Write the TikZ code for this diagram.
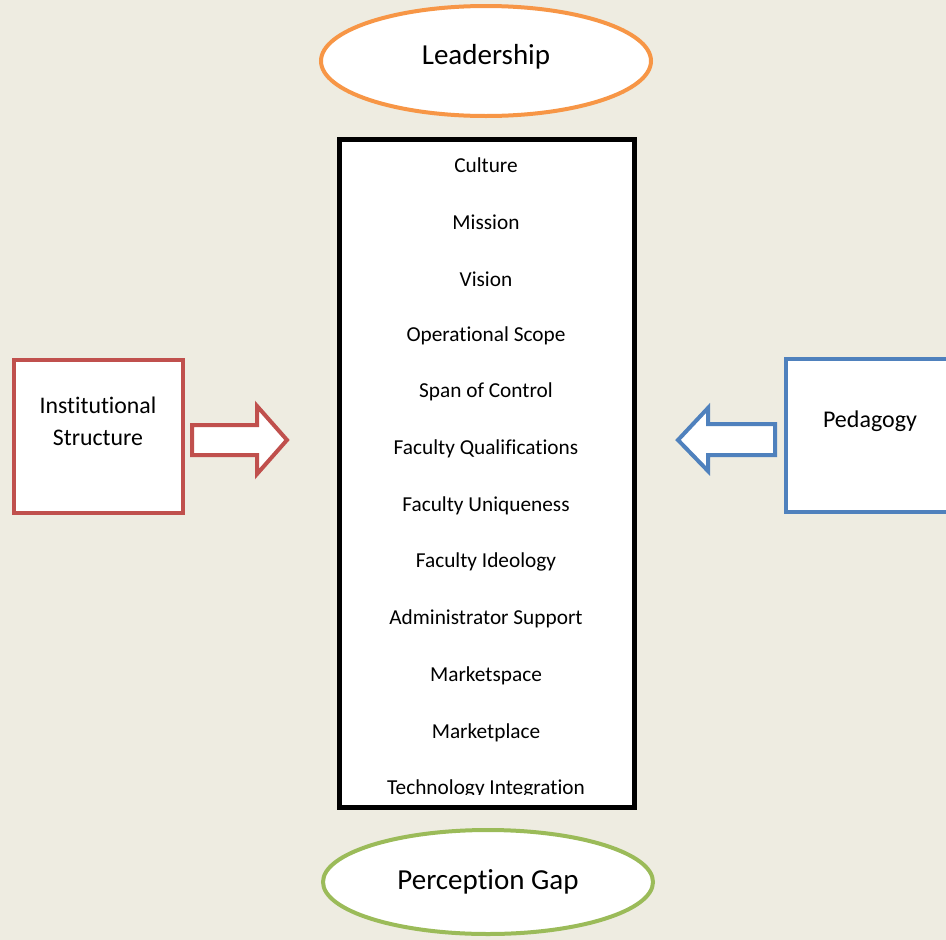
\documentclass[tikz,border=0pt]{standalone}
\usepackage{fontspec}
\setmainfont{Carlito}[Ligatures = NoCommon]
\usetikzlibrary{shapes.geometric}

\definecolor{bgtan}{HTML}{EEECE1}
\definecolor{leadorange}{HTML}{F79646}
\definecolor{gapgreen}{HTML}{9BBB59}
\definecolor{structred}{HTML}{C0504D}
\definecolor{pedblue}{HTML}{4F81BD}

\tikzset{
  oval/.style = {ellipse, fill = white, line width = 4pt, minimum width = 330pt, minimum height = 110pt, inner sep = 0pt},
  sidebox/.style = {rectangle, fill = white, line width = 4pt, minimum width = 169pt, minimum height = 153pt, inner sep = 0pt},
  factor/.style = {font = \fontsize{21.3}{24}\selectfont}
}

\begin{document}
\begin{tikzpicture}[x = 1pt, y = -1pt]
        \fill[bgtan] (0, 0) rectangle (946, 940);
        \useasboundingbox (0, 0) rectangle (946, 940);

        % top and bottom ovals
        \node[oval, draw = leadorange] (lead) at (486, 61) {};
        \node[font = \fontsize{29}{32}\selectfont] at ([yshift = 4pt]lead.center) {Leadership};

        \node[oval, draw = gapgreen, minimum height = 104pt] (gap) at (488, 882) {};
        \node[font = \fontsize{29}{32}\selectfont] at (gap.center) {Perception Gap};

        % central list
        \node[draw, fill = white, line width = 5pt, minimum width = 295pt, minimum height = 668pt, inner sep = 0pt] (factors) at (487, 473.5) {};
        \begin{scope}
          \clip (340, 142) rectangle (634, 794);
          \foreach \item [count = \i from 0] in {Culture, Mission, Vision, Operational Scope, Span of Control, Faculty Qualifications, Faculty Uniqueness, Faculty Ideology, Administrator Support, Marketspace, Marketplace, Technology Integration}
            \node[factor] at (486, 165.5 + 56.7 * \i) {\item};
        \end{scope}

        % left side
        \node[sidebox, draw = structred] (struct) at (98.5, 436) {};
        \node[align = center, font = \fontsize{23.8}{32}\selectfont] at (98, 421) {Institutional\\Structure};
        \draw[structred, fill = white, line width = 4pt] (192, 425) -- (257, 425) -- (257, 406) -- (287, 440) -- (257, 474) -- (257, 455) -- (192, 455) -- cycle;

        % right side
        \node[sidebox, draw = pedblue] (ped) at (870, 435) {};
        \node[font = \fontsize{24}{28}\selectfont] at (870, 421) {Pedagogy};
        \draw[pedblue, fill = white, line width = 4pt] (775, 424) -- (708, 424) -- (708, 408) -- (678, 440) -- (708, 471) -- (708, 455) -- (775, 455) -- cycle;
      \end{tikzpicture}
\end{document}
